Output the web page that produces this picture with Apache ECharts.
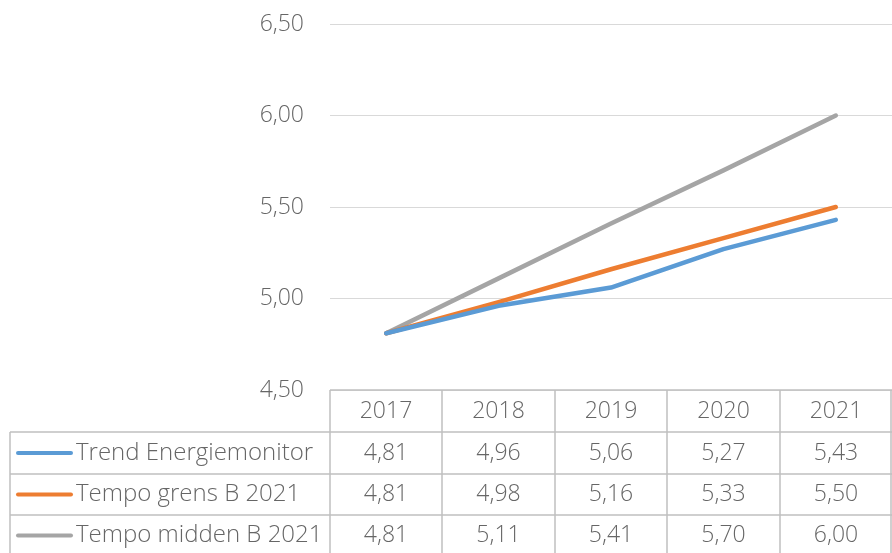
<!DOCTYPE html>
<html><head><meta charset="utf-8">
<script src="https://cdn.jsdelivr.net/npm/echarts@6/dist/echarts.min.js"></script>
<style>html,body{margin:0;padding:0;background:#fff}#c{width:892px;height:553px}</style>
</head><body><div id="c"></div>
<script>
const categories = ['2017','2018','2019','2020','2021'];
const seriesNames = ['Trend Energiemonitor','Tempo grens B 2021','Tempo midden B 2021'];
const trendEnergiemonitor = [4.81,4.96,5.06,5.27,5.43];
const tempoGrens = [4.81,4.98,5.16,5.33,5.50];
const tempoMidden = [4.81,5.11,5.41,5.70,6.00];
const yTicks = [4.5,5.0,5.5,6.0,6.5];
const seriesData = [trendEnergiemonitor, tempoGrens, tempoMidden];
const colors = ['#5B9BD5','#ED7D31','#A5A5A5'];

const FONT = '"Open Sans", sans-serif';
const TXT = '#666666';
const FS = 23;
const fmt = v => v.toFixed(2).replace('.', ',');

const chart = echarts.init(document.getElementById('c'), null, {renderer:'canvas'});
const gridLeft = 330, gridTop = 24, gridBottom = 163;
chart.setOption({
  animation:false,
  grid:{left:gridLeft,right:0,top:gridTop,bottom:gridBottom,containLabel:false},
  xAxis:{type:'category',data:categories,boundaryGap:true,
    axisLine:{show:false},axisTick:{show:false},axisLabel:{show:false},splitLine:{show:false}},
  yAxis:{type:'value',min:yTicks[0],max:yTicks[yTicks.length-1],interval:0.5,
    axisLine:{show:false},axisTick:{show:false},
    axisLabel:{formatter:fmt,color:TXT,fontFamily:FONT,fontSize:FS,fontWeight:300,margin:26},
    splitLine:{lineStyle:{color:'#d9d9d9',width:1}}},
  series: seriesData.map((d,i)=>({
    name:seriesNames[i],type:'line',data:d,symbol:'none',
    lineStyle:{color:colors[i],width:4.5,cap:'round',join:'round'},z:3+ (2-i)
  }))
});

// Data table below the plot
const H = 553, W = 892;
const top0 = H - gridBottom; // 390
const rowH = [42,42,41,41];
const rowY = [top0];
rowH.forEach(h=>rowY.push(rowY[rowY.length-1]+h));
const colX = [gridLeft];
categories.forEach((c,i)=>{
  const p = chart.convertToPixel({xAxisIndex:0}, c);
  colX.push(i<categories.length-1 ? Math.round(p + (chart.convertToPixel({xAxisIndex:0}, categories[i+1]) - p)/2) : W);
});
const tableLeft = 10;
const lc = '#bfbfbf';
const g = [];
const line = (x1,y1,x2,y2)=>g.push({type:'line',shape:{x1,y1,x2,y2},style:{stroke:lc,lineWidth:1.5},silent:true});
line(gridLeft, rowY[0], W, rowY[0]);
for (let r=1;r<rowY.length;r++) line(tableLeft, rowY[r], W, rowY[r]);
line(tableLeft, rowY[1], tableLeft, H);
colX.forEach((x,i)=>{ if(i<colX.length-1) line(x, rowY[0], x, H); });
line(W-1, rowY[0], W-1, H);
const font = '300 ' + FS + 'px ' + FONT;
const fontName = '300 24px ' + FONT;
categories.forEach((c,i)=>{
  g.push({type:'text',style:{text:c,x:(colX[i]+colX[i+1])/2,y:(rowY[0]+rowY[1])/2,
    align:'center',verticalAlign:'middle',fill:TXT,font}});
});
seriesData.forEach((d,r)=>{
  const cy = (rowY[r+1]+rowY[r+2])/2;
  g.push({type:'line',shape:{x1:18,y1:cy,x2:71,y2:cy},style:{stroke:colors[r],lineWidth:4,lineCap:'round'}});
  g.push({type:'text',style:{text:seriesNames[r],x:76,y:cy,align:'left',verticalAlign:'middle',fill:TXT,font:fontName}});
  d.forEach((v,i)=>{
    g.push({type:'text',style:{text:fmt(v),x:(colX[i]+colX[i+1])/2,y:cy,align:'center',verticalAlign:'middle',fill:TXT,font}});
  });
});
chart.setOption({graphic:g});
</script></body></html>
